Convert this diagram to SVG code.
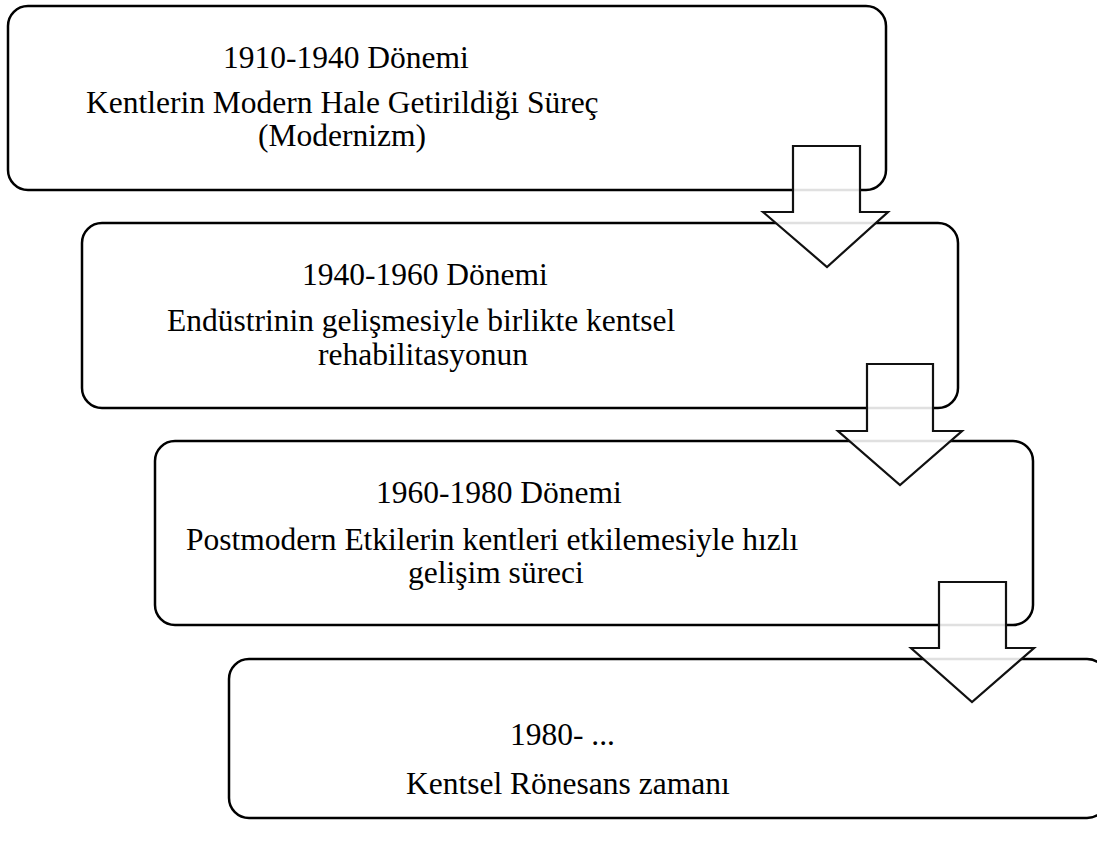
<svg xmlns="http://www.w3.org/2000/svg" width="1097" height="843" viewBox="0 0 1097 843">
<style>
.box{fill:#fff;stroke:#000;stroke-width:2.5}
.arr{fill:#fff;fill-opacity:0.88;stroke:#111;stroke-width:2.2;stroke-linejoin:miter}
text{font-family:"Liberation Serif","Times New Roman",serif;font-size:31.5px;fill:#000}
</style>
<rect width="1097" height="843" fill="#fff"/>
<g id="node1">
<rect class="box" x="8" y="6" width="878" height="184" rx="20"/>
<text x="223" y="68">1910-1940 Dönemi</text>
<text x="86" y="113">Kentlerin Modern Hale Getirildiği Süreç</text>
<text x="258" y="146">(Modernizm)</text>
</g>
<g id="node2">
<rect class="box" x="82" y="223" width="876" height="185" rx="20"/>
<text x="302" y="285">1940-1960 Dönemi</text>
<text x="167" y="331">Endüstrinin gelişmesiyle birlikte kentsel</text>
<text x="318" y="365">rehabilitasyonun</text>
</g>
<g id="node3">
<rect class="box" x="155" y="441" width="878" height="184" rx="20"/>
<text x="376" y="503">1960-1980 Dönemi</text>
<text x="186" y="550">Postmodern Etkilerin kentleri etkilemesiyle hızlı</text>
<text x="408" y="583">gelişim süreci</text>
</g>
<g id="node4">
<rect class="box" x="229" y="659" width="878" height="159" rx="20"/>
<text x="510" y="745">1980- ...</text>
<text x="406" y="794">Kentsel Rönesans zamanı</text>
</g>
<g id="connectors">
<polygon class="arr" points="793,146 860,146 860,212 888,212 827,267 763,212 793,212"/>
<polygon class="arr" points="867,364 933,364 933,431 962,431 900,485 838,431 867,431"/>
<polygon class="arr" points="939,582 1006,582 1006,648 1034,648 972,702 911,648 939,648"/>
</g>
</svg>
